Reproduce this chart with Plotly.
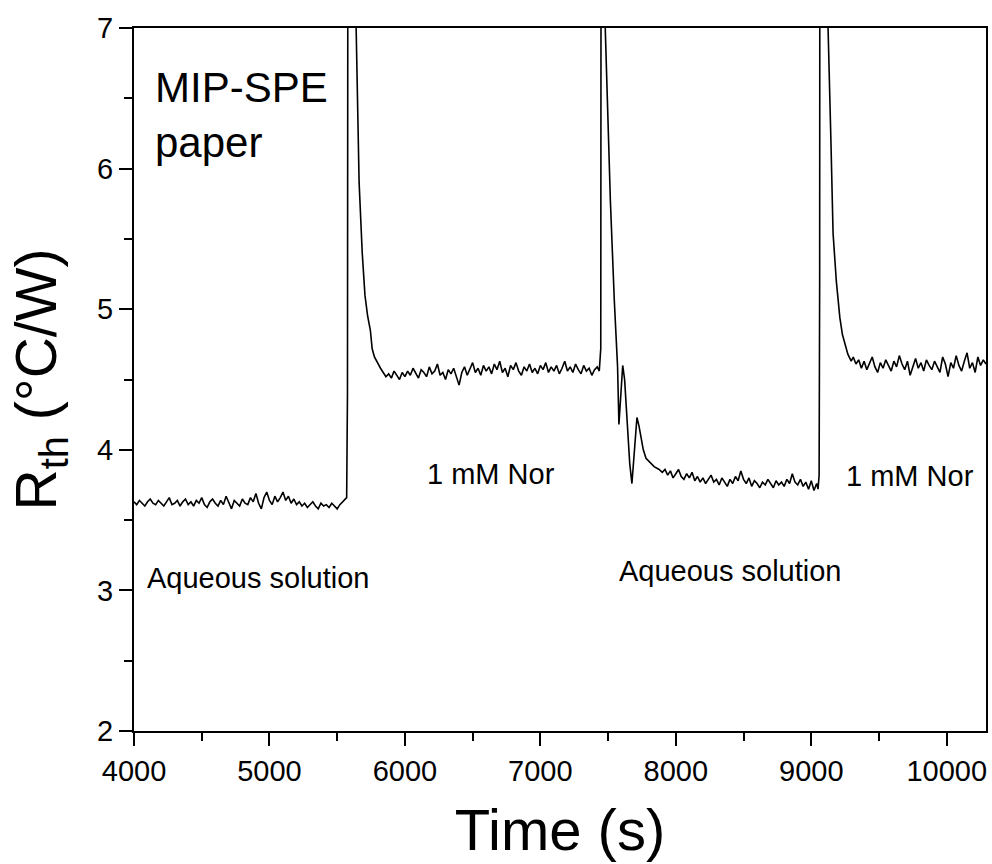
import numpy as np
import plotly.graph_objects as go

# ---- measured thermal resistance, R_th (°C/W) vs time (s) ----
# Baseline in aqueous solution, sampled every 20 s from 4000 s
aq1_start, aq1_step = 4000, 20
aq1_vals = [
    3.63, 3.61, 3.64, 3.62, 3.60, 3.63, 3.65, 3.62, 3.61, 3.64,
    3.62, 3.60, 3.63, 3.66, 3.61, 3.62, 3.64, 3.60, 3.63, 3.65,
    3.61, 3.63, 3.60, 3.64, 3.62, 3.66, 3.61, 3.59, 3.63, 3.65,
    3.62, 3.60, 3.64, 3.61, 3.67, 3.62, 3.58, 3.64, 3.62, 3.60,
    3.65, 3.62, 3.61, 3.66, 3.63, 3.69, 3.62, 3.58, 3.66, 3.70,
    3.64, 3.61, 3.67, 3.63, 3.66, 3.70, 3.64, 3.67, 3.62, 3.65,
    3.61, 3.63, 3.60, 3.62, 3.59, 3.61, 3.63, 3.60, 3.58, 3.62,
    3.60, 3.61, 3.59, 3.62, 3.60, 3.58, 3.61, 3.63, 3.65,
]

# First injection of 1 mM Nor (peak goes off scale)
spk1_t = [5570, 5576, 5580, 5634, 5640, 5662, 5685, 5705, 5725, 5745, 5758, 5775, 5795]
spk1_v = [3.66, 4.40, 9.00, 9.00, 7.00, 5.90, 5.40, 5.10, 4.95, 4.85, 4.72, 4.66, 4.62]

# Plateau in 1 mM Nor
nor1_start, nor1_step = 5820, 20
nor1_vals = [
    4.58, 4.55, 4.52, 4.54, 4.51, 4.56, 4.53, 4.50, 4.55, 4.52,
    4.56, 4.53, 4.58, 4.54, 4.51, 4.57, 4.55, 4.52, 4.59, 4.54,
    4.56, 4.61, 4.53, 4.55, 4.50, 4.57, 4.54, 4.58, 4.52, 4.46,
    4.55, 4.59, 4.53, 4.57, 4.62, 4.55, 4.58, 4.53, 4.60, 4.56,
    4.59, 4.54, 4.61, 4.57, 4.63, 4.55, 4.58, 4.52, 4.60, 4.57,
    4.62, 4.56, 4.53, 4.59, 4.56, 4.61, 4.55, 4.58, 4.54, 4.60,
    4.57, 4.62, 4.55, 4.59, 4.56, 4.60, 4.54, 4.58, 4.63, 4.56,
    4.59, 4.55, 4.61, 4.57, 4.54, 4.60, 4.56, 4.58, 4.53, 4.57,
    4.59,
]

# Exchange back to aqueous solution, with damped oscillation
spk2_t = [7435, 7446, 7449, 7474, 7479, 7517, 7546, 7570, 7580, 7595, 7608, 7622,
          7640, 7660, 7676, 7690, 7702, 7713, 7728, 7745, 7760, 7780, 7810, 7840, 7877]
spk2_v = [4.56, 4.72, 9.00, 9.00, 7.00, 5.77, 5.06, 4.59, 4.18, 4.45, 4.60, 4.50,
          4.20, 3.90, 3.76, 3.95, 4.15, 4.23, 4.17, 4.08, 4.00, 3.94, 3.91, 3.88, 3.86]

# Second aqueous baseline
aq2_start, aq2_step = 7900, 20
aq2_vals = [
    3.84, 3.86, 3.82, 3.85, 3.80, 3.83, 3.86, 3.81, 3.79, 3.83,
    3.80, 3.84, 3.78, 3.81, 3.77, 3.80, 3.76, 3.79, 3.82, 3.77,
    3.79, 3.75, 3.80, 3.77, 3.74, 3.79, 3.76, 3.81, 3.78, 3.85,
    3.79, 3.76, 3.80, 3.74, 3.78, 3.76, 3.73, 3.77, 3.75, 3.79,
    3.76, 3.73, 3.78, 3.75, 3.77, 3.74, 3.79, 3.76, 3.83, 3.77,
    3.75, 3.79, 3.74, 3.77, 3.72, 3.78, 3.71, 3.76,
]

# Second injection of 1 mM Nor
spk3_t = [9050, 9058, 9062, 9064, 9118, 9124, 9145, 9161, 9185, 9211, 9230, 9248, 9270, 9295]
spk3_v = [3.72, 3.82, 5.20, 9.00, 9.00, 7.00, 6.20, 5.54, 5.20, 4.94, 4.82, 4.75, 4.68, 4.63]

# Second plateau in 1 mM Nor
nor2_start, nor2_step = 9310, 20
nor2_vals = [
    4.66, 4.61, 4.64, 4.58, 4.63, 4.57, 4.62, 4.66, 4.59, 4.55,
    4.62, 4.58, 4.64, 4.60, 4.56, 4.63, 4.59, 4.67, 4.61, 4.57,
    4.63, 4.53, 4.60, 4.65, 4.58, 4.62, 4.56, 4.64, 4.60, 4.57,
    4.63, 4.59, 4.55, 4.66, 4.61, 4.52, 4.62, 4.58, 4.67, 4.60,
    4.56, 4.63, 4.69, 4.58, 4.62, 4.55, 4.66, 4.60, 4.64, 4.61,
]

x_ticks = [4000, 5000, 6000, 7000, 8000, 9000, 10000]
x_tick_text = ["4000", "5000", "6000", "7000", "8000", "9000", "10000"]
y_ticks = [2, 3, 4, 5, 6, 7]
y_tick_text = ["2", "3", "4", "5", "6", "7"]


def sampled(start, step, vals):
    return list(start + step * np.arange(len(vals))), list(vals)


segments = [
    sampled(aq1_start, aq1_step, aq1_vals),
    (spk1_t, spk1_v),
    sampled(nor1_start, nor1_step, nor1_vals),
    (spk2_t, spk2_v),
    sampled(aq2_start, aq2_step, aq2_vals),
    (spk3_t, spk3_v),
    sampled(nor2_start, nor2_step, nor2_vals),
]
time = [t for seg in segments for t in seg[0]]
rth = [v for seg in segments for v in seg[1]]

FONT = "Liberation Sans, Arial, sans-serif"

fig = go.Figure()
fig.add_trace(go.Scatter(
    x=time, y=rth, mode="lines",
    line=dict(color="black", width=1.6),
    showlegend=False, hoverinfo="skip",
))

labels = [
    ("MIP-SPE<br>paper", 4140, 6.38, 42),
    ("1 mM Nor", 6146, 3.828, 29),
    ("1 mM Nor", 9240, 3.814, 29),
    ("Aqueous solution", 4084, 3.088, 29),
    ("Aqueous solution", 7566, 3.138, 29),
]
for text, x, y, size in labels:
    fig.add_annotation(
        x=x, y=y, xref="x", yref="y", text=text, showarrow=False,
        xanchor="left", yanchor="middle", align="left",
        font=dict(family=FONT, size=size, color="black"),
    )

axis_common = dict(
    showline=True, linecolor="black", linewidth=2, mirror=True,
    ticks="outside", ticklen=13, tickwidth=2, tickcolor="black",
    showgrid=False, zeroline=False, tickmode="array",
    tickfont=dict(family=FONT, size=29, color="black"),
)

fig.update_layout(
    width=992, height=864,
    margin=dict(l=134, r=4, t=28, b=133),
    paper_bgcolor="white", plot_bgcolor="white",
    xaxis=dict(
        range=[4000, 10290], tickvals=x_ticks, ticktext=x_tick_text,
        minor=dict(dtick=500, ticks="outside", ticklen=8, tickwidth=2, tickcolor="black"),
        title=dict(text="Time (s)", font=dict(family=FONT, size=58, color="black"), standoff=24),
        **axis_common,
    ),
    yaxis=dict(
        range=[2, 7], tickvals=y_ticks, ticktext=y_tick_text,
        minor=dict(dtick=0.5, ticks="outside", ticklen=8, tickwidth=2, tickcolor="black"),
        title=dict(text="R<sub>th</sub> (°C/W)", font=dict(family=FONT, size=57, color="black"), standoff=22),
        **axis_common,
    ),
)

fig.write_html("out.html")
